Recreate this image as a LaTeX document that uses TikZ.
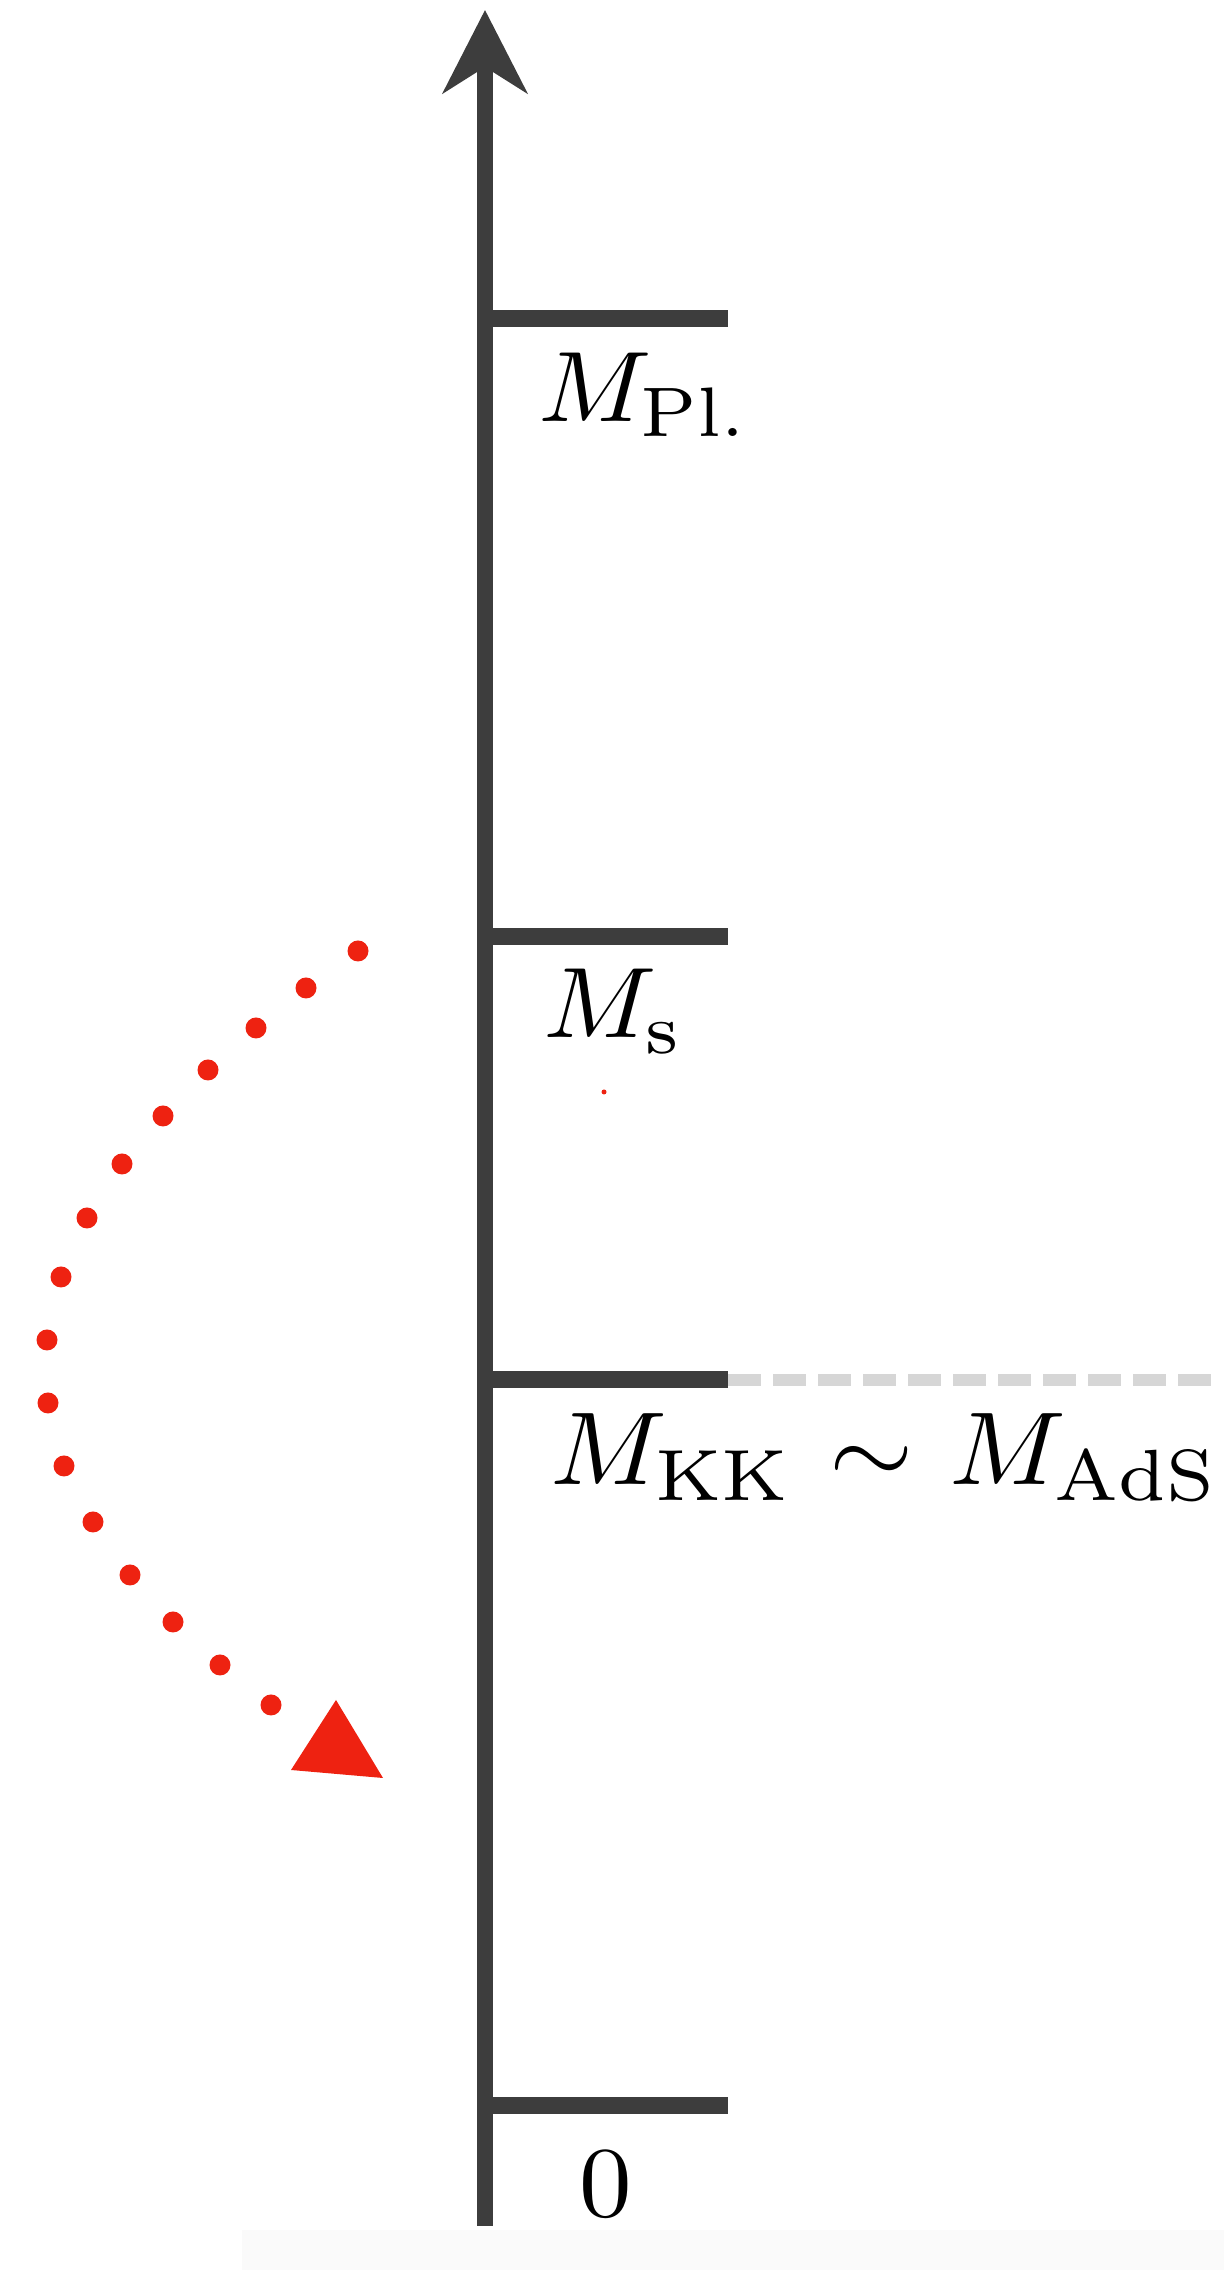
\RequirePackage{fix-cm}
\documentclass[tikz,border=0pt]{standalone}
\usetikzlibrary{arrows.meta}
\definecolor{axisgray}{HTML}{3D3D3D}
\definecolor{guidegray}{HTML}{D6D6D6}
\definecolor{flowred}{HTML}{EE2211}
\newcommand{\masstext}[3]{\scalebox{#1}[#2]{$#3$}}
\tikzset{
	axisline/.style={line width=0.16cm, draw=axisgray},
	scaletick/.style={line width=0.17cm, draw=axisgray},
	guideline/.style={line width=0.12cm, draw=guidegray, dash pattern=on 0.33cm off 0.12cm},
	masslabel/.style={anchor=base west, inner sep=0pt, font=\normalsize},
	flowdot/.style={fill=flowred}
}
\begin{document}
\begin{tikzpicture}
		\useasboundingbox (0,0) rectangle (12.24,22.70);
		\fill[black!2] (2.42,0) rectangle (12.24,0.40);
		% energy axis
		\draw[axisline, -{Stealth[length=0.83cm, width=0.84cm, inset=0.26cm]}] (4.85,0.44) -- (4.85,22.60);
		\foreach \y in {19.51, 13.33, 8.90, 1.64}{
			\draw[scaletick] (4.85,\y) -- (7.28,\y);
		}
		\draw[guideline] (7.28,8.90) -- (12.11,8.90);
		\node[masslabel] (pl) at (5.38,18.48) {\masstext{2.99}{2.85}{M_{\mathrm{Pl.}}}};
		\node[masslabel] (ms) at (5.43,12.32) {\masstext{2.99}{2.85}{M_{\mathrm{s}}}};
		\node[masslabel] (kk) at (5.50,7.85) {\masstext{3.08}{2.95}{M_{\mathrm{KK}}\mskip1mu\sim\mskip1mu M_{\mathrm{AdS}}}};
		\node[masslabel] (zero) at (5.79,0.53) {\masstext{2.99}{2.85}{0}};
		% red dotted flow
		\foreach \x/\y in {3.58/13.19, 3.06/12.82, 2.56/12.42, 2.08/12.00, 1.63/11.54, 1.22/11.06, 0.87/10.52, 0.61/9.93, 0.47/9.30, 0.48/8.67, 0.64/8.04, 0.93/7.48, 1.30/6.95, 1.73/6.48, 2.20/6.05, 2.71/5.65}{
			\fill[flowdot] (\x,\y) circle (0.105);
		}
		\fill[flowdot] (3.36,5.70) -- (2.91,5.00) -- (3.83,4.92) -- cycle;
		\fill[flowdot] (6.04,11.78) circle (0.025);
	\end{tikzpicture}
\end{document}
